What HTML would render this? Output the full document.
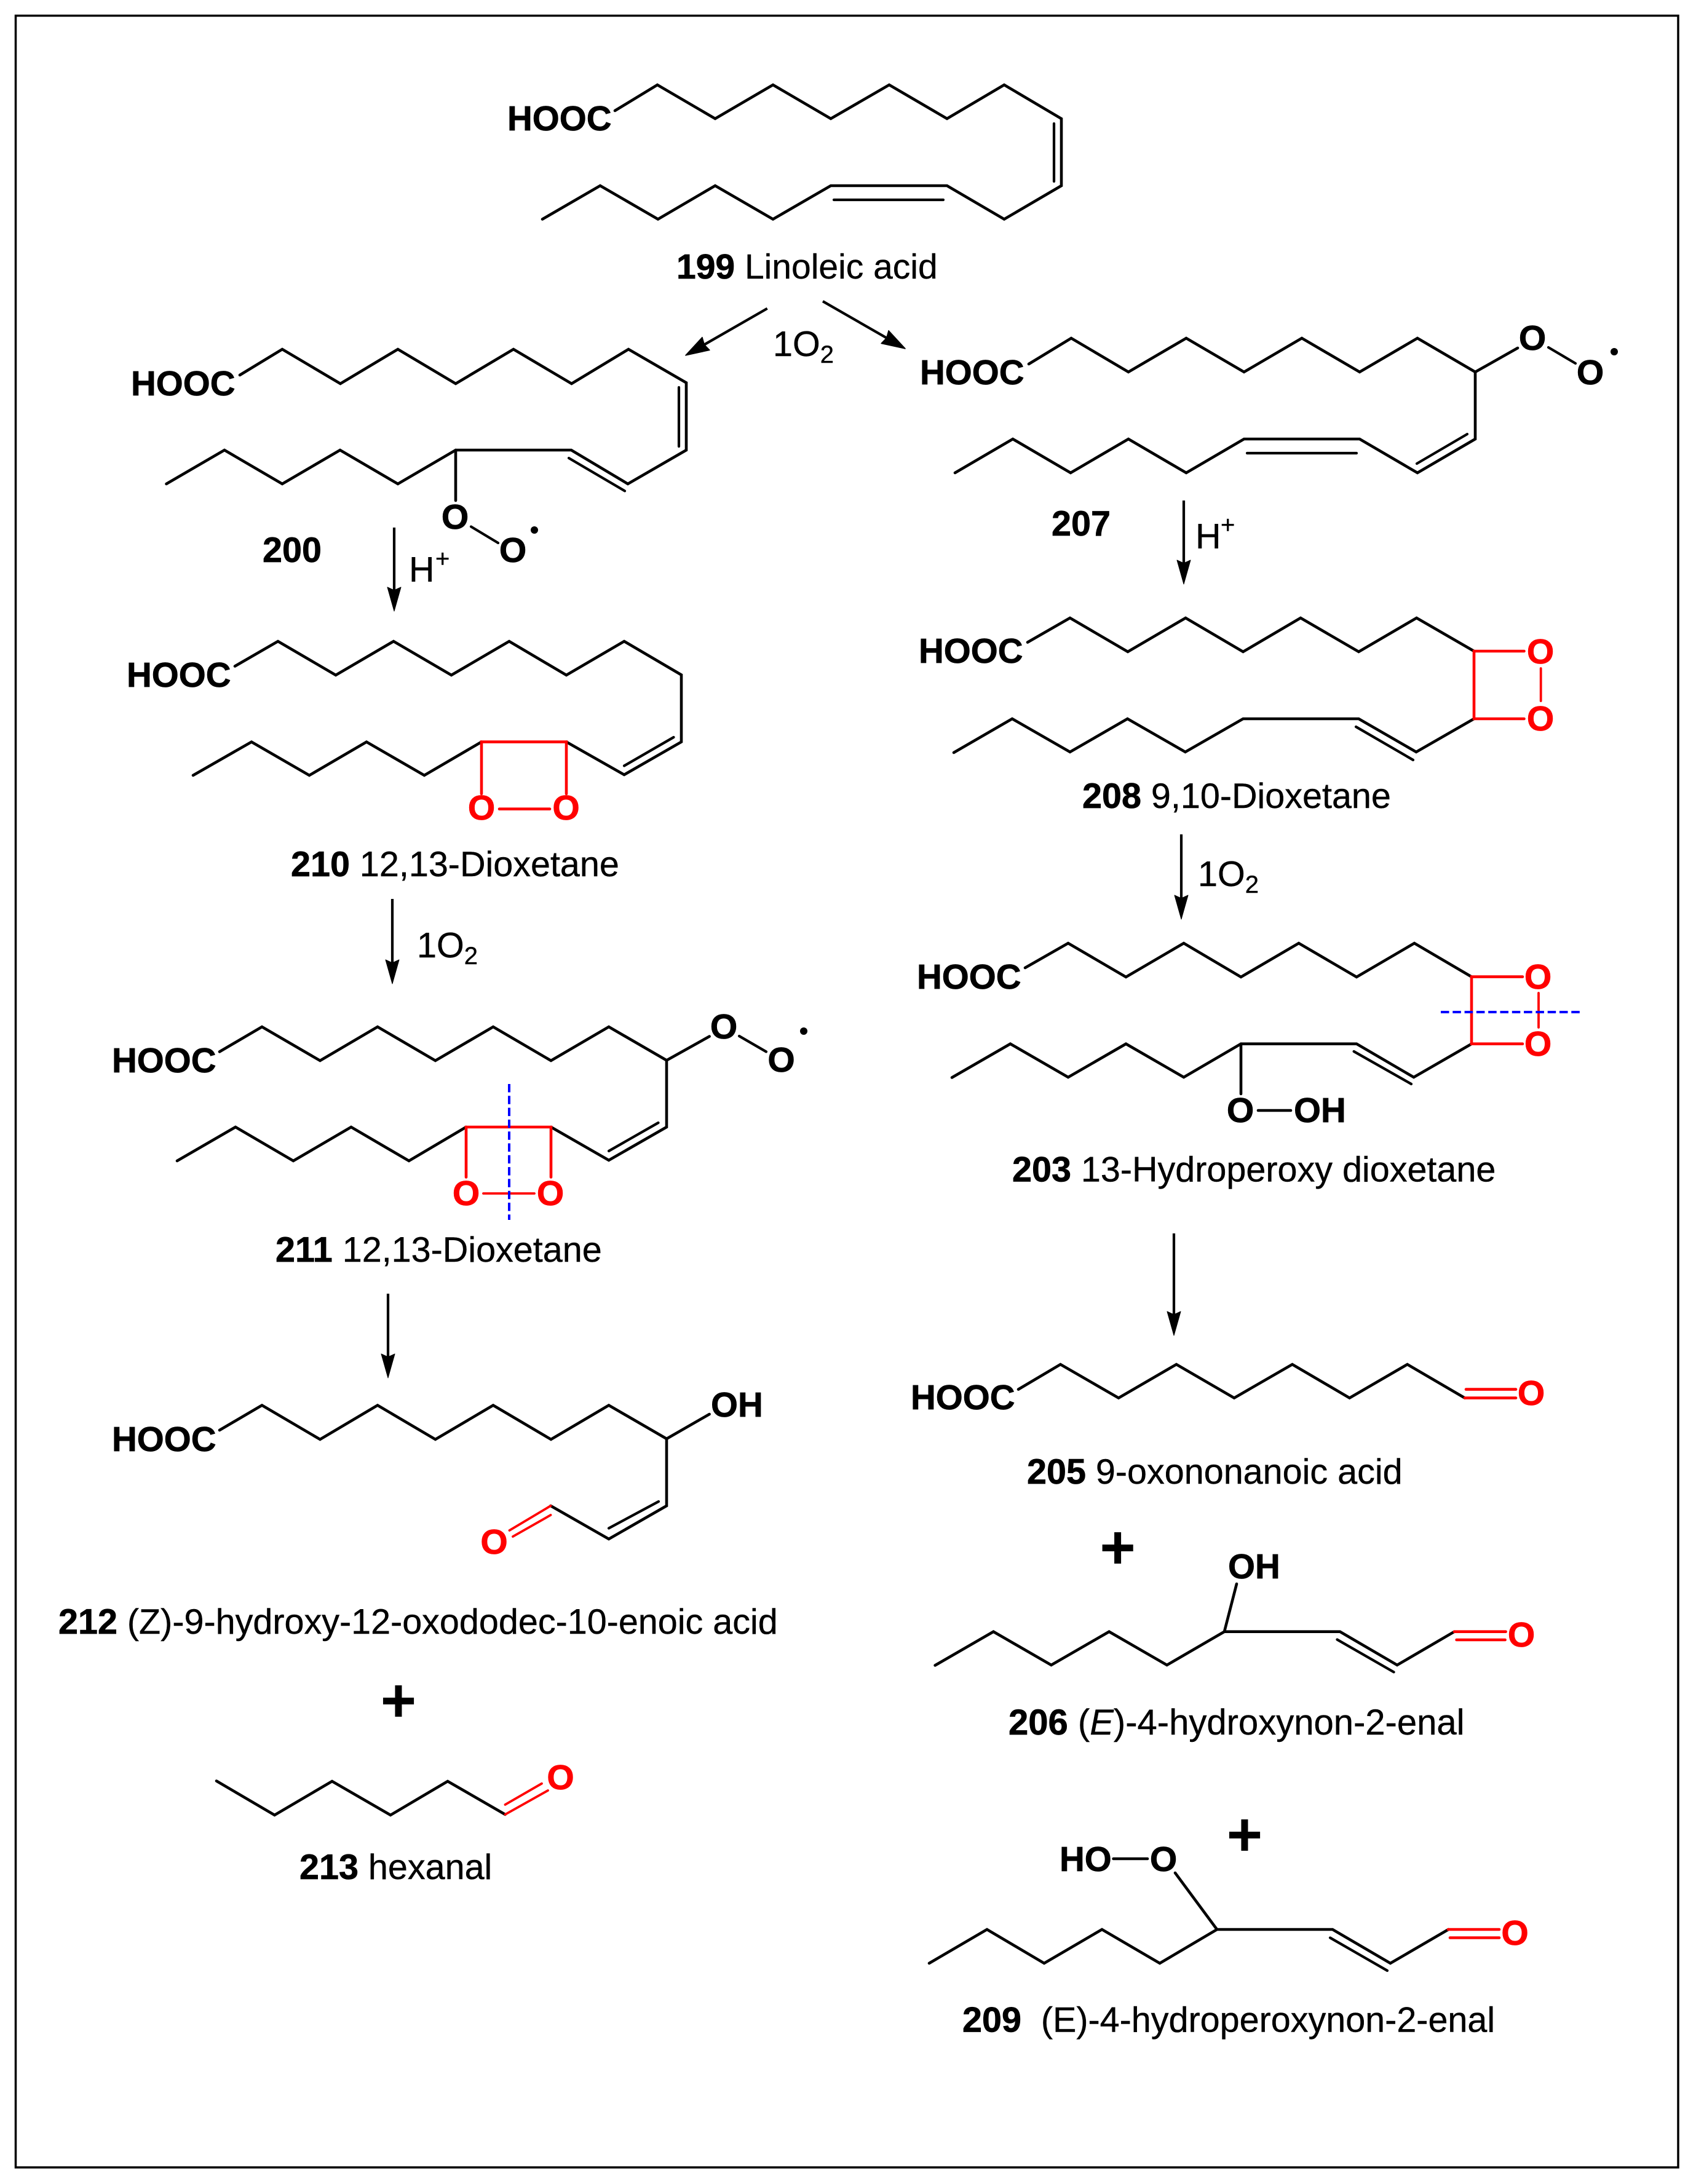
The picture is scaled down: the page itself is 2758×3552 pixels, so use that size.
<!DOCTYPE html>
<html><head><meta charset="utf-8"><style>
html,body{margin:0;padding:0;background:#fff}
svg{display:block}
text{font-family:"Liberation Sans",Arial,sans-serif;font-size:57.5px;fill:#000;stroke:#000;stroke-width:.4px}
.b{font-weight:bold;stroke-width:.7px}
.h{font-weight:bold;font-size:56.5px;stroke-width:.7px}
.o{font-weight:bold;font-size:57px;text-anchor:middle;stroke-width:.8px}
.r{fill:#f00;stroke:#f00}
.k{fill:none;stroke:#000;stroke-width:4.6;stroke-linejoin:miter;stroke-linecap:round}
.t{fill:none;stroke:#000;stroke-width:4.2;stroke-linecap:round}
.e{fill:none;stroke:#f00;stroke-width:4.6;stroke-linejoin:miter;stroke-linecap:round}
.f{fill:none;stroke:#f00;stroke-width:3.8;stroke-linecap:round}
.d{fill:none;stroke:#00f;stroke-width:4;stroke-dasharray:13.5 5.8}
.a{fill:none;stroke:#000;stroke-width:4.2}
.p{font-weight:bold;font-size:100px;text-anchor:middle;stroke-width:0}
</style></head><body>
<svg xmlns="http://www.w3.org/2000/svg" width="2758" height="3552" viewBox="0 0 2758 3552">
<defs>
<marker id="m1" markerUnits="userSpaceOnUse" markerWidth="50" markerHeight="34" refX="7" refY="15" orient="auto"><path d="M2,4 L41,15 L2,26 L7,15z" fill="#000" stroke="#000" stroke-width="1" stroke-linejoin="round"/></marker>
<marker id="m2" markerUnits="userSpaceOnUse" markerWidth="50" markerHeight="34" refX="5" refY="15" orient="auto"><path d="M2,3 L40,15 L2,27 L5,15z" fill="#000" stroke="#000" stroke-width="1.5" stroke-linejoin="round"/></marker>
</defs>
<rect width="2758" height="3552" fill="#fff"/>
<rect x="25.5" y="25.5" width="2703.5" height="3499.5" fill="none" stroke="#000" stroke-width="3.5"/>

<!-- 199 -->
<text class="h" x="825" y="212">HOOC</text>
<polyline class="k" points="1000,180 1069,138 1163,193 1257,138 1351,193 1446,138 1540,193 1633,138 1726,193 1726,302 1633,356.5 1540,302 1351,302 1257,356.5 1163,302 1070,356.5 976,302 882,356.5"/>
<line class="t" x1="1714" y1="201" x2="1714" y2="295"/>
<line class="t" x1="1356" y1="325" x2="1534" y2="325"/>
<text x="1100" y="453" style="font-size:57px"><tspan class="b">199</tspan> Linoleic acid</text>
<line class="a" x1="1247.7" y1="501.7" x2="1145.3" y2="560.5" marker-end="url(#m2)"/>
<line class="a" x1="1338" y1="490" x2="1441.7" y2="549.6" marker-end="url(#m2)"/>
<text x="1257" y="579">1O<tspan font-size="40" dy="11">2</tspan></text>

<!-- 200 -->
<text class="h" x="213" y="643">HOOC</text>
<polyline class="k" points="390,610 459,568 553.5,624 647,568 741,624 835,568 929.5,624 1022,568 1116,622.5 1116,732 1021,787 929,732 741,732 647,787 553,732 459,787 365,732 270.5,787"/>
<line class="t" x1="1104" y1="630" x2="1104" y2="726"/>
<line class="t" x1="925" y1="745" x2="1016" y2="798.5"/>
<line class="k" x1="741" y1="732" x2="741" y2="814"/>
<text class="o" x="740" y="860">O</text>
<line class="t" x1="766" y1="856.5" x2="810" y2="883"/>
<text class="o" x="834" y="914">O</text>
<circle cx="869" cy="862" r="6"/>
<text class="b" x="427" y="914">200</text>
<line class="a" x1="641" y1="858" x2="641" y2="960" marker-end="url(#m1)"/>
<text x="665" y="946">H</text><text x="708" y="922" style="font-size:40px">+</text>

<!-- 207 -->
<text class="h" x="1496" y="625">HOOC</text>
<polyline class="k" points="1673,592 1742,550 1835,605 1929,550 2023,605 2117,550 2211,605 2305,550 2399,605 2399,714 2305,769 2211,714 2023,714 1929,769 1835,714 1741,769 1647,714 1553,769"/>
<line class="t" x1="2386" y1="706" x2="2304" y2="754"/>
<line class="t" x1="2028" y1="737" x2="2206" y2="737"/>
<line class="k" x1="2399" y1="605" x2="2468" y2="566"/>
<text class="o" x="2492" y="569">O</text>
<line class="t" x1="2518" y1="565" x2="2562" y2="591"/>
<text class="o" x="2586" y="625">O</text>
<circle cx="2625" cy="572" r="6"/>
<text class="b" x="1710" y="871">207</text>
<line class="a" x1="1925" y1="814" x2="1925" y2="916" marker-end="url(#m1)"/>
<text x="1944" y="892">H</text><text x="1985" y="867" style="font-size:40px">+</text>

<!-- 210 -->
<text class="h" x="206" y="1117">HOOC</text>
<polyline class="k" points="382,1083.5 452,1043 546,1098 640,1043 734,1098 828,1043 921,1098 1015,1043 1108,1097.6 1108,1206.6 1015,1260 921,1206.6"/>
<polyline class="k" points="783,1206.6 690,1261 596,1206.6 503,1261 409,1206.6 314,1261"/>
<line class="t" x1="1095.5" y1="1199" x2="1015" y2="1245.5"/>
<polyline class="e" points="783,1291 783,1206.6 921,1206.6 921,1291"/>
<line class="e" x1="812" y1="1315.7" x2="894" y2="1315.7"/>
<text class="o r" x="783" y="1333">O</text><text class="o r" x="920.5" y="1333">O</text>
<text x="473" y="1425"><tspan class="b">210</tspan> 12,13-Dioxetane</text>
<line class="a" x1="638" y1="1462" x2="638" y2="1566" marker-end="url(#m1)"/>
<text x="678" y="1557">1O<tspan font-size="40" dy="11">2</tspan></text>

<!-- 211 -->
<text class="h" x="182" y="1744">HOOC</text>
<polyline class="k" points="357,1710.5 426,1670 520.5,1725 614,1670 708,1725 802,1670 896,1725 990,1670 1084,1724.5 1084,1833 990,1887 896,1833"/>
<polyline class="k" points="758,1833 665,1888 571,1833 477,1888 383,1833 288,1888"/>
<line class="t" x1="1070.5" y1="1826" x2="990" y2="1872"/>
<line class="k" x1="1084" y1="1724.5" x2="1153.6" y2="1685.6"/>
<text class="o" x="1177" y="1689">O</text>
<line class="t" x1="1202" y1="1685" x2="1246" y2="1710.5"/>
<text class="o" x="1270.5" y="1743">O</text>
<circle cx="1307" cy="1677" r="6"/>
<polyline class="e" points="758,1914.5 758,1833 896,1833 896,1914.5"/>
<line class="f" x1="786" y1="1941" x2="869" y2="1941"/>
<text class="o r" x="758" y="1960">O</text><text class="o r" x="895" y="1960">O</text>
<line class="d" x1="828" y1="1763" x2="828" y2="1984"/>
<text x="448" y="2052"><tspan class="b">211</tspan> 12,13-Dioxetane</text>
<line class="a" x1="631" y1="2104" x2="631" y2="2207" marker-end="url(#m1)"/>

<!-- 212 -->
<text class="h" x="182" y="2360">HOOC</text>
<polyline class="k" points="357,2326 426,2285.5 520.5,2341 614,2285.5 708,2341 802,2285.5 896,2341 990,2285.5 1084,2340 1084,2449 990,2503 895.5,2449"/>
<line class="t" x1="1071" y1="2442" x2="990" y2="2485.5"/>
<line class="f" x1="895.5" y1="2449" x2="828.5" y2="2489"/>
<line class="f" x1="895.5" y1="2464" x2="834" y2="2499"/>
<text class="o r" x="803.6" y="2527">O</text>
<line class="k" x1="1084" y1="2340" x2="1153.6" y2="2300"/>
<text class="h" x="1156" y="2304">OH</text>
<text x="95" y="2657"><tspan class="b">212</tspan> (Z)-9-hydroxy-12-oxododec-10-enoic acid</text>
<text class="p" x="648" y="2800">+</text>

<!-- 213 -->
<polyline class="k" points="352,2896.5 446.5,2952 540,2897 635,2952 728,2897 821.5,2951"/>
<line class="f" x1="821.5" y1="2951" x2="891" y2="2912"/>
<line class="f" x1="821.5" y1="2935" x2="881" y2="2900.7"/>
<text class="o r" x="911.6" y="2910">O</text>
<text x="487" y="3056"><tspan class="b">213</tspan> hexanal</text>

<!-- 208 -->
<text class="h" x="1494" y="1078">HOOC</text>
<polyline class="k" points="1671,1044.6 1740,1005 1834,1060 1928,1005 2021.5,1060 2115,1005 2209.5,1060 2303.6,1005 2397,1059"/>
<polyline class="k" points="2397,1169 2303,1223 2209.5,1169 2021.5,1169 1927.5,1223 1833.5,1169 1740,1223 1646,1169 1551,1224"/>
<line class="t" x1="2205" y1="1182" x2="2298" y2="1236"/>
<polyline class="e" points="2478.5,1059 2397,1059 2397,1169 2478.5,1169"/>
<line class="f" x1="2505.7" y1="1087" x2="2505.7" y2="1140"/>
<text class="o r" x="2505" y="1079">O</text><text class="o r" x="2505" y="1188">O</text>
<text x="1760" y="1314"><tspan class="b">208</tspan> 9,10-Dioxetane</text>
<line class="a" x1="1921" y1="1357" x2="1921" y2="1461" marker-end="url(#m1)"/>
<text x="1948" y="1441">1O<tspan font-size="40" dy="11">2</tspan></text>

<!-- 203 -->
<text class="h" x="1491" y="1608">HOOC</text>
<polyline class="k" points="1667,1574 1737,1534 1831,1589 1925,1534 2018,1589 2112,1534 2206,1589 2300,1534 2393,1588.6"/>
<polyline class="k" points="2393,1697.7 2299,1752 2206,1697.7 2018,1697.7 1925,1752 1831,1697.7 1737,1752 1643,1697.7 1548,1752.5"/>
<line class="t" x1="2201.6" y1="1710" x2="2295" y2="1763"/>
<polyline class="e" points="2476,1588.6 2393,1588.6 2393,1697.7 2476,1697.7"/>
<line class="f" x1="2502" y1="1615" x2="2502" y2="1671"/>
<text class="o r" x="2501" y="1608">O</text><text class="o r" x="2501" y="1717">O</text>
<line class="d" x1="2343" y1="1646" x2="2569" y2="1646"/>
<line class="k" x1="2018" y1="1697.7" x2="2018" y2="1779"/>
<text class="o" x="2017" y="1825">O</text>
<line class="k" x1="2046" y1="1806" x2="2099" y2="1806"/>
<text class="h" x="2104" y="1825">OH</text>
<text x="1646" y="1921.5"><tspan class="b">203</tspan> 13-Hydroperoxy dioxetane</text>
<line class="a" x1="1909" y1="2006" x2="1909" y2="2138" marker-end="url(#m1)"/>

<!-- 205 -->
<text class="h" x="1481" y="2292">HOOC</text>
<polyline class="k" points="1656,2259.6 1724.5,2219 1819,2273.6 1913,2219 2007,2273.6 2101.5,2219 2194.6,2273.6 2288.6,2219 2382,2273.6"/>
<line class="e" x1="2382" y1="2273.6" x2="2465" y2="2273.6"/>
<line class="e" x1="2384" y1="2259.6" x2="2465" y2="2259.6"/>
<text class="o r" x="2490" y="2285">O</text>
<text x="1670" y="2413"><tspan class="b">205</tspan> 9-oxononanoic acid</text>
<text class="p" x="1817.6" y="2551">+</text>

<!-- 206 -->
<text class="h" x="1997" y="2567">OH</text>
<line class="k" x1="2011" y1="2576" x2="1991" y2="2653.7"/>
<polyline class="k" points="1520.6,2708.5 1615.5,2653.7 1709.5,2708 1803.6,2653.7 1897.6,2708 1991,2653.7 2179,2653.7 2272,2708 2365,2653.7"/>
<line class="t" x1="2174.4" y1="2666.5" x2="2266.6" y2="2719.4"/>
<line class="e" x1="2365" y1="2653.7" x2="2448.6" y2="2653.7"/>
<line class="e" x1="2368.6" y1="2667" x2="2447.6" y2="2667"/>
<text class="o r" x="2474" y="2678">O</text>
<text x="1640" y="2821" style="font-size:58px"><tspan class="b">206</tspan> (<tspan font-style="italic">E</tspan>)-4-hydroxynon-2-enal</text>
<text class="p" x="2024" y="3018">+</text>

<!-- 209 -->
<text class="h" x="1723" y="3043">HO</text>
<line class="k" x1="1810.6" y1="3023" x2="1866" y2="3023"/>
<text class="o" x="1892" y="3043">O</text>
<line class="k" x1="1911" y1="3046" x2="1979" y2="3138"/>
<polyline class="k" points="1511,3193 1605,3138 1698,3193 1792,3138 1886,3193 1979,3138 2167,3138 2261,3193 2355.4,3138"/>
<line class="t" x1="2163" y1="3151.5" x2="2256" y2="3205"/>
<line class="e" x1="2355" y1="3138" x2="2438" y2="3138"/>
<line class="e" x1="2358" y1="3151.5" x2="2438" y2="3151.5"/>
<text class="o r" x="2463.5" y="3163">O</text>
<text x="1565" y="3304.5" xml:space="preserve"><tspan class="b">209</tspan>&#160; (E)-4-hydroperoxynon-2-enal</text>
</svg>
</body></html>
